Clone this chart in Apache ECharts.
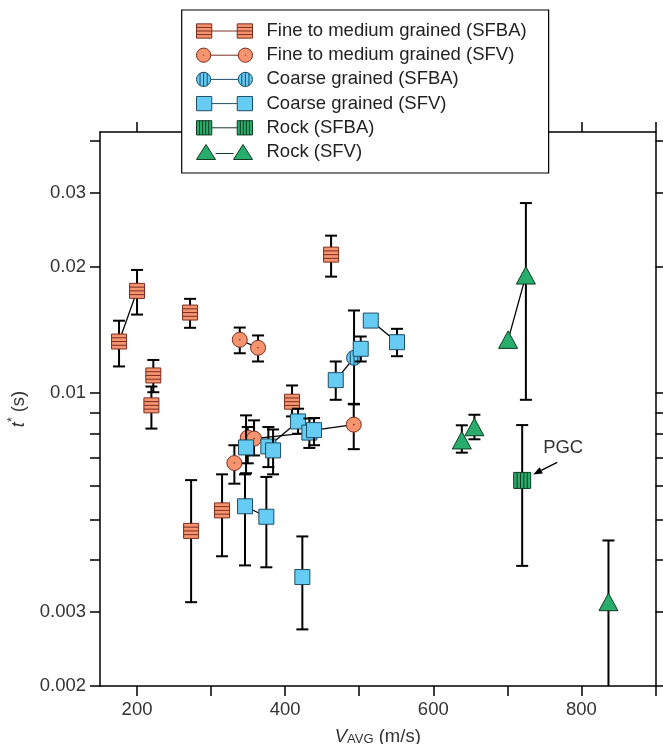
<!DOCTYPE html>
<html><head><meta charset="utf-8">
<script src="https://cdn.jsdelivr.net/npm/echarts@6/dist/echarts.min.js"></script>
<style>html,body{margin:0;padding:0;background:#fff}#c{width:663px;height:744px}</style>
</head><body><div id="c"></div>
<script>
// ---------- DATA ----------
const fineSFBA_x  = [175.7, 200, 222, 219.4, 271.6, 273, 314.8, 409.3, 462];
const fineSFBA_y  = [0.01328, 0.01754, 0.01102, 0.00935, 0.01557, 0.00469, 0.00525, 0.00954, 0.02141];
const fineSFBA_lo = [0.01158, 0.0154, 0.01005, 0.00823, 0.01432, 0.00317, 0.00408, 0.0088, 0.01897];
const fineSFBA_hi = [0.01489, 0.01968, 0.0120, 0.01037, 0.01679, 0.0062, 0.0064, 0.01043, 0.02376];

const fineSFV_x  = [338.7, 363.4, 349.5, 358, 331.4, 492.6];
const fineSFV_y  = [0.01341, 0.01283, 0.00783, 0.00779, 0.00681, 0.00841];
const fineSFV_lo = [0.01245, 0.0119, 0.0068, 0.0071, 0.00608, 0.00735];
const fineSFV_hi = [0.01434, 0.01373, 0.0083, 0.00861, 0.00751, 0.00943];

const coarseSFBA_x  = [493];
const coarseSFBA_y  = [0.01214];
const coarseSFBA_lo = [0.0094];
const coarseSFBA_hi = [0.01575];

const coarseSFV_x  = [515.6, 551, 502, 468.3, 417.4, 432.7, 439, 347.2, 377.3, 383.7, 345.8, 374.6, 423.2];
const coarseSFV_y  = [0.0149, 0.01323, 0.01276, 0.01074, 0.00856, 0.00805, 0.00816, 0.00742, 0.00746, 0.0073, 0.00537, 0.00507, 0.00364];
const coarseSFV_lo = [null, 0.01225, 0.0119, 0.00964, 0.008, 0.0074, 0.00751, 0.00644, 0.00666, 0.0064, 0.00388, 0.00384, 0.00273];
const coarseSFV_hi = [null, 0.01424, 0.01365, 0.0119, 0.00918, 0.0087, 0.00872, 0.00885, 0.0083, 0.00819, 0.0064, 0.00631, 0.00455];

const rockSFBA_x  = [720];
const rockSFBA_y  = [0.00619];
const rockSFBA_lo = [0.00387];
const rockSFBA_hi = [0.00839];
const rockSFBA_notes = ['PGC'];

const rockSFV_x  = [701, 725, 638.5, 655.5, 836.5];
const rockSFV_y  = [0.0134, 0.01908, 0.00771, 0.00829, 0.00317];
const rockSFV_lo = [null, 0.00964, 0.00721, 0.00776, 0.0015];
const rockSFV_hi = [null, 0.02842, 0.00838, 0.00888, 0.00445];

// pairs of points joined by a line: [group, index, group, index]
const links = [
  ['fineSFBA',0,'fineSFBA',1],
  ['fineSFV',0,'fineSFV',1],
  ['coarseSFV',0,'coarseSFV',1],
  ['coarseSFV',3,'coarseSFBA',0],
  ['coarseSFBA',0,'coarseSFV',2],
  ['coarseSFV',4,'coarseSFV',8],
  ['coarseSFV',6,'fineSFV',5],
  ['fineSFV',3,'coarseSFV',5],
  ['coarseSFV',10,'coarseSFV',11],
  ['rockSFV',0,'rockSFV',1]
];

const xTicks = [200,300,400,500,600,700,800,900];
const xLabels = [200,400,600,800];
const yTicks = [0.002,0.003,0.004,0.005,0.006,0.007,0.008,0.009,0.01,0.02,0.03,0.04];
const yLabels = [0.002,0.003,0.01,0.02,0.03];

const names = ['Fine to medium grained (SFBA)','Fine to medium grained (SFV)','Coarse grained (SFBA)','Coarse grained (SFV)','Rock (SFBA)','Rock (SFV)'];

// ---------- STYLE ----------
const FONT = 'Liberation Sans, Arial, Helvetica, sans-serif';
const ORANGE = '#F5946F', ORANGE_D = '#7A2E22';
const BLUE = '#66CCF3', BLUE_D = '#1E4D66';
const GREEN = '#28AD6C', GREEN_D = '#0E3B22';

const groups = {
  fineSFBA:   {x:fineSFBA_x, y:fineSFBA_y, lo:fineSFBA_lo, hi:fineSFBA_hi},
  fineSFV:    {x:fineSFV_x, y:fineSFV_y, lo:fineSFV_lo, hi:fineSFV_hi},
  coarseSFBA: {x:coarseSFBA_x, y:coarseSFBA_y, lo:coarseSFBA_lo, hi:coarseSFBA_hi},
  coarseSFV:  {x:coarseSFV_x, y:coarseSFV_y, lo:coarseSFV_lo, hi:coarseSFV_hi},
  rockSFBA:   {x:rockSFBA_x, y:rockSFBA_y, lo:rockSFBA_lo, hi:rockSFBA_hi},
  rockSFV:    {x:rockSFV_x, y:rockSFV_y, lo:rockSFV_lo, hi:rockSFV_hi}
};
function rows(g){ return g.x.map((x,i)=>[x, g.y[i], g.lo[i]==null?'-':g.lo[i], g.hi[i]==null?'-':g.hi[i]]); }

function makeRender(kind, fill, dark, notes){
  return function(params, api){
    const x = api.value(0), y = api.value(1), lo = api.value(2), hi = api.value(3);
    const p = api.coord([x, y]);
    const cs = params.coordSys;
    const bottom = cs.y + cs.height;
    const ch = [];
    const bar = {stroke:'#000', lineWidth:2};
    if (isFinite(lo) && isFinite(hi)) {
      let yl = api.coord([x, lo])[1], yh = api.coord([x, hi])[1];
      let capLo = true;
      if (yl > bottom) { yl = bottom; capLo = false; }
      ch.push({type:'line', shape:{x1:p[0], y1:yh, x2:p[0], y2:yl}, style:bar});
      ch.push({type:'line', shape:{x1:p[0]-6, y1:yh, x2:p[0]+6, y2:yh}, style:bar});
      if (capLo) ch.push({type:'line', shape:{x1:p[0]-6, y1:yl, x2:p[0]+6, y2:yl}, style:bar});
    }
    const ms = {fill:fill, stroke:dark, lineWidth:1};
    const ss = {stroke:dark, lineWidth:1};
    const cx = p[0], cy = p[1];
    if (kind === 'sqH' || kind === 'sq') {
      ch.push({type:'rect', shape:{x:cx-7.5, y:cy-7.5, width:15, height:15}, style:ms});
      if (kind === 'sqH') [-3.75,0,3.75].forEach(d=>ch.push({type:'line', shape:{x1:cx-7.5,y1:cy+d,x2:cx+7.5,y2:cy+d}, style:ss}));
    } else if (kind === 'sqV') {
      ch.push({type:'rect', shape:{x:cx-8.5, y:cy-8, width:17, height:16}, style:ms});
      [-5.1,-1.7,1.7,5.1].forEach(d=>ch.push({type:'line', shape:{x1:cx+d,y1:cy-8,x2:cx+d,y2:cy+8}, style:ss}));
    } else if (kind === 'circDot' || kind === 'circV') {
      const r = 7.5;
      ch.push({type:'circle', shape:{cx:cx, cy:cy, r:r}, style:ms});
      if (kind === 'circDot') ch.push({type:'circle', shape:{cx:cx, cy:cy, r:0.8}, style:{fill:dark}});
      else [-3.75,0,3.75].forEach(d=>{ const h=Math.sqrt(r*r-d*d); ch.push({type:'line', shape:{x1:cx+d,y1:cy-h,x2:cx+d,y2:cy+h}, style:ss}); });
    } else if (kind === 'tri') {
      ch.push({type:'polygon', shape:{points:[[cx-9.5,cy+8.5],[cx,cy-9],[cx+9.5,cy+8.5]]}, style:ms});
    }
    if (notes && notes[params.dataIndex]) {
      const tx = cx+35, ty = cy-18, hx = cx+11, hy = cy-6;
      const ang = Math.atan2(hy-ty, hx-tx), L = 9, W = 3.5;
      const bx = hx - L*Math.cos(ang), by = hy - L*Math.sin(ang);
      ch.push({type:'line', shape:{x1:tx,y1:ty,x2:bx,y2:by}, style:{stroke:'#000', lineWidth:1.5}});
      ch.push({type:'polygon', shape:{points:[[hx,hy],[bx - W*Math.sin(ang), by + W*Math.cos(ang)],[bx + W*Math.sin(ang), by - W*Math.cos(ang)]]}, style:{fill:'#000'}});
      ch.push({type:'text', x:cx+41, y:cy-32.5, style:{text:notes[params.dataIndex], font:'18.5px '+FONT, fill:'#333', align:'center', verticalAlign:'middle'}});
    }
    return {type:'group', children:ch};
  };
}

const kinds = [
  ['fineSFBA','sqH',ORANGE,ORANGE_D,null],
  ['fineSFV','circDot',ORANGE,ORANGE_D,null],
  ['coarseSFBA','circV',BLUE,BLUE_D,null],
  ['coarseSFV','sq',BLUE,BLUE_D,null],
  ['rockSFBA','sqV',GREEN,GREEN_D,rockSFBA_notes],
  ['rockSFV','tri',GREEN,GREEN_D,null]
];

const series = [];
links.forEach(l=>{
  const a = groups[l[0]], b = groups[l[2]];
  series.push({type:'line', data:[[a.x[l[1]], a.y[l[1]]],[b.x[l[3]], b.y[l[3]]]], symbol:'none', silent:true,
    lineStyle:{color:'#000', width:1.3}, z:1, animation:false});
});
kinds.forEach((k,i)=>{
  series.push({type:'custom', name:names[i], data:rows(groups[k[0]]), encode:{x:0,y:1},
    renderItem:makeRender(k[1],k[2],k[3],k[4]), itemStyle:{color:k[2], borderColor:k[3]}, z:2, animation:false});
});

// legend icons (56 x 15)
const icons = [
  'path://M0.5,0.5H15.5V14.5H0.5Z M0.5,4H15.5 M0.5,7.5H15.5 M0.5,11H15.5 M15.5,7.5H40.5 M40.5,0.5H55.5V14.5H40.5Z M40.5,4H55.5 M40.5,7.5H55.5 M40.5,11H55.5',
  'path://M0.5,7.5A7,7 0 1 1 14.5,7.5A7,7 0 1 1 0.5,7.5Z M7,7.5H8 M14.5,7.5H41.5 M41.5,7.5A7,7 0 1 1 55.5,7.5A7,7 0 1 1 41.5,7.5Z M48,7.5H49',
  'path://M0.5,7.5A7,7 0 1 1 14.5,7.5A7,7 0 1 1 0.5,7.5Z M4,1.44V13.56 M7.5,0.5V14.5 M11,1.44V13.56 M14.5,7.5H41.5 M41.5,7.5A7,7 0 1 1 55.5,7.5A7,7 0 1 1 41.5,7.5Z M45,1.44V13.56 M48.5,0.5V14.5 M52,1.44V13.56',
  'path://M0.5,0.5H15.5V14.5H0.5Z M15.5,7.5H40.5 M40.5,0.5H55.5V14.5H40.5Z',
  'path://M0.5,0.5H15.5V14.5H0.5Z M3.5,0.5V14.5 M6.5,0.5V14.5 M9.5,0.5V14.5 M12.5,0.5V14.5 M15.5,7.5H40.5 M40.5,0.5H55.5V14.5H40.5Z M43.5,0.5V14.5 M46.5,0.5V14.5 M49.5,0.5V14.5 M52.5,0.5V14.5',
  'path://M0,15L9.5,0L19,15Z M19,9H37 M37,15L46.5,0L56,15Z'
];

const axisLine = {lineStyle:{color:'#000', width:1.5}};
const tickStyle = {color:'#000', width:1.5};
const labelStyle = {fontSize:18.5, fontFamily:FONT, color:'#333'};
const fmtY = v => String(+(+v).toPrecision(3));

const option = {
  animation:false,
  backgroundColor:'#fff',
  grid:{left:100, right:7.5, top:132, bottom:58, containLabel:false, outerBoundsMode:'none'},
  legend:{
    orient:'vertical', left:181.7, top:10, padding:[11,22,11,14.3], itemGap:4.2, itemWidth:56, itemHeight:15,
    backgroundColor:'#fff', borderColor:'#000', borderWidth:1.2, borderRadius:0, selectedMode:false, z:10,
    textStyle:{fontSize:18.5, fontFamily:FONT, color:'#222', lineHeight:20, padding:[0,0,0,9]},
    data:names.map((n,i)=>({name:n, icon:icons[i], itemStyle:{color:kinds[i][2], borderColor:kinds[i][3], borderWidth:1}}))
  },
  xAxis:[
    {type:'value', position:'bottom', min:150, max:900, axisLine:axisLine,
     axisTick:{customValues:xTicks, length:10, lineStyle:tickStyle},
     axisLabel:Object.assign({customValues:xLabels, margin:14}, labelStyle),
     splitLine:{show:false},
     name:'{i|V}{sub|AVG}{n| (m/s)}', nameLocation:'middle', nameGap:38,
     nameTextStyle:{fontFamily:FONT, color:'#333', rich:{
       i:{fontStyle:'italic', fontSize:18.5, lineHeight:22, verticalAlign:'bottom', fontFamily:FONT, color:'#333'},
       n:{fontSize:18.5, lineHeight:22, verticalAlign:'bottom', fontFamily:FONT, color:'#333'},
       sub:{fontSize:13, lineHeight:14, verticalAlign:'bottom', fontFamily:FONT, color:'#333'}}}},
    {type:'value', position:'top', min:150, max:900, axisLine:axisLine,
     axisTick:{customValues:xTicks, length:10, lineStyle:tickStyle},
     axisLabel:{show:false}, splitLine:{show:false}}
  ],
  yAxis:[
    {type:'log', logBase:10, position:'left', min:0.002, max:0.042, axisLine:axisLine,
     axisTick:{customValues:yTicks, length:10, lineStyle:tickStyle},
     axisLabel:Object.assign({customValues:yLabels, margin:14, formatter:fmtY}, labelStyle),
     splitLine:{show:false}, minorTick:{show:false},
     name:'{i|t}{sup|*}{n| (s)}', nameLocation:'middle', nameGap:61, nameRotate:90,
     nameTextStyle:{fontFamily:FONT, color:'#333', rich:{
       i:{fontStyle:'italic', fontSize:18.5, lineHeight:22, verticalAlign:'bottom', fontFamily:FONT, color:'#333'},
       n:{fontSize:18.5, lineHeight:22, verticalAlign:'bottom', fontFamily:FONT, color:'#333'},
       sup:{fontSize:12, lineHeight:14, verticalAlign:'top', fontFamily:FONT, color:'#333'}}}},
    {type:'log', logBase:10, position:'right', min:0.002, max:0.042, axisLine:axisLine,
     axisTick:{customValues:yTicks, length:10, lineStyle:tickStyle},
     axisLabel:{show:false}, splitLine:{show:false}}
  ],
  series:series
};
const chart = echarts.init(document.getElementById('c'), null, {renderer:'canvas'});
chart.setOption(option);
</script>
</body></html>
